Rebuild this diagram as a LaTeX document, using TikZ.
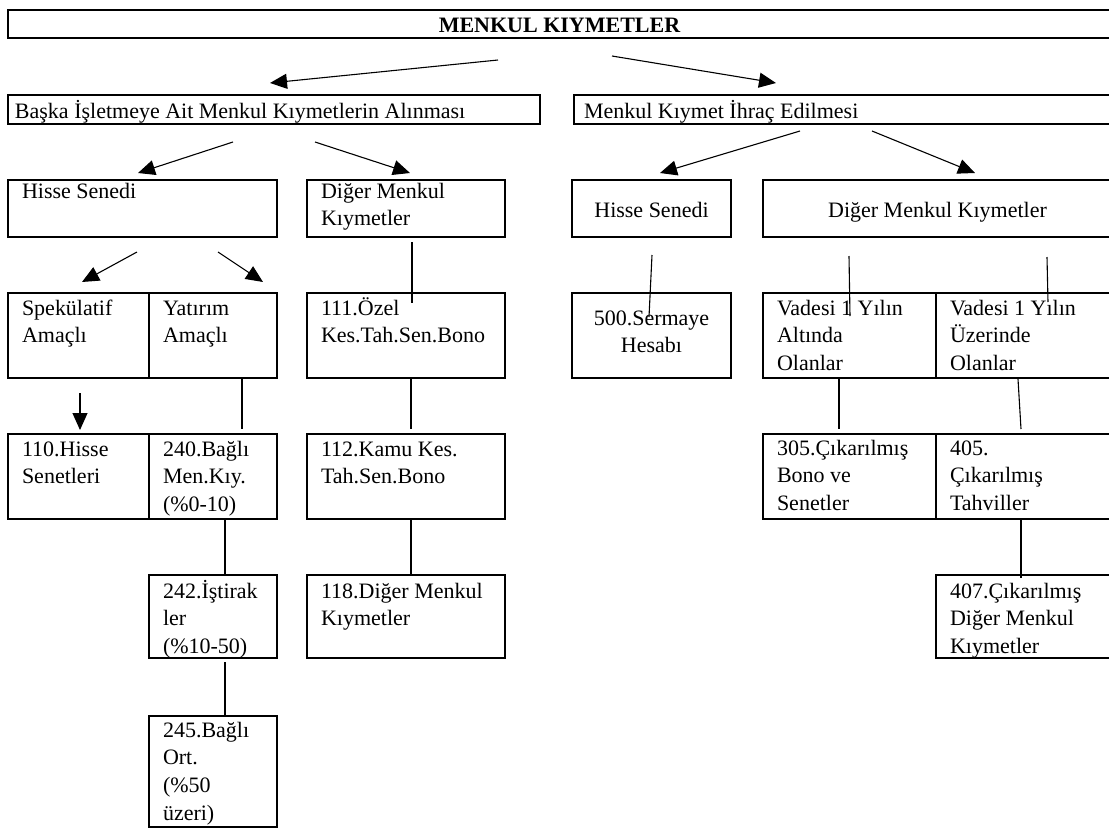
\documentclass[tikz,border=0pt]{standalone}
\usepackage{fontspec}
\setmainfont{Liberation Serif}
\usetikzlibrary{arrows.meta}
\newcommand{\yazi}{\fontsize{22}{27.8}\selectfont}
% genislik, yukseklik, ilk satir, metin
\newcommand{\kutuyazi}[4]{\parbox[c][#2pt][t]{#1pt}{\yazi\raggedright\rule{0pt}{#3pt}#4}}

\begin{document}
\begin{tikzpicture}[x=1pt,y=-1pt,
        kutu/.style={draw, line width=2pt, anchor=north west, inner ysep=0pt, inner xsep=14pt, outer sep=0pt},
        ok/.style={-{Triangle[length=17pt,width=15pt]}, line width=1.1pt},
        cizgi/.style={line width=1.1pt}]
        \useasboundingbox[fill=white] (0,0) rectangle (1109,828);
        \node[kutu, inner xsep=0pt] (baslik) at (8,10) {\kutuyazi{1103}{28}{22}{\centering\bfseries MENKUL KIYMETLER}};
        \node[kutu, inner xsep=7pt] (baska) at (8,95) {\kutuyazi{518}{29}{23}{Başka İşletmeye Ait Menkul Kıymetlerin Alınması}};
        \node[kutu, inner xsep=10pt] (ihrac) at (574,95) {\kutuyazi{518}{29}{23}{Menkul Kıymet İhraç Edilmesi}};
        % sol dal
        \node[kutu] (hisseA) at (8,180) {\kutuyazi{241}{57}{18}{Hisse Senedi}};
        \node[kutu] (digerA) at (307,180) {\kutuyazi{170}{57}{18}{Diğer Menkul\\Kıymetler}};
        \node[kutu] (spek) at (8,293) {\kutuyazi{113}{85}{22}{Spekülatif\\Amaçlı}};
        \node[kutu] (yat) at (149,293) {\kutuyazi{100}{85}{22}{Yatırım\\Amaçlı}};
        \node[kutu] (h111) at (307,293) {\kutuyazi{170}{85}{22}{111.Özel\\Kes.Tah.Sen.Bono}};
        \node[kutu] (h110) at (8,434) {\kutuyazi{113}{85}{22}{110.Hisse\\Senetleri}};
        \node[kutu] (h240) at (149,434) {\kutuyazi{100}{85}{22}{240.Bağlı\\Men.Kıy.\\(\%0-10)}};
        \node[kutu] (h112) at (307,434) {\kutuyazi{170}{85}{22}{112.Kamu Kes.\\Tah.Sen.Bono}};
        \node[kutu] (h242) at (149,575) {\kutuyazi{100}{83}{23}{242.İştirak\\ler\\(\%10-50)}};
        \node[kutu] (h118) at (307,575) {\kutuyazi{170}{83}{23}{118.Diğer Menkul\\Kıymetler}};
        \node[kutu] (h245) at (149,716) {\kutuyazi{100}{111}{21}{245.Bağlı\\Ort.\\(\%50\\üzeri)}};
        % sag dal
        \node[kutu, inner xsep=0pt] (hisseB) at (572,180) {\kutuyazi{159}{57}{37}{\centering Hisse Senedi}};
        \node[kutu, inner xsep=0pt] (digerB) at (763,180) {\kutuyazi{349}{57}{37}{\centering Diğer Menkul Kıymetler}};
        \node[kutu, inner xsep=0pt] (h500) at (572,293) {\kutuyazi{159}{85}{32}{\centering 500.Sermaye\\Hesabı}};
        \node[kutu] (vade1) at (763,293) {\kutuyazi{145}{85}{22}{Vadesi 1 Yılın\\Altında\\Olanlar}};
        \node[kutu] (vade2) at (936,293) {\kutuyazi{148}{85}{22}{Vadesi 1 Yılın\\Üzerinde\\Olanlar}};
        \node[kutu] (h305) at (763,434) {\kutuyazi{145}{85}{21}{305.Çıkarılmış\\Bono ve\\Senetler}};
        \node[kutu] (h405) at (936,434) {\kutuyazi{148}{85}{21}{405.\\Çıkarılmış\\Tahviller}};
        \node[kutu] (h407) at (936,575) {\kutuyazi{148}{83}{23}{407.Çıkarılmış\\Diğer Menkul\\Kıymetler}};
        % oklar
        \draw[ok] ([shift={(490,22)}]baslik.south west) -- ([shift={(262,-12)}]baska.north west);
        \draw[ok] ([shift={(604,18)}]baslik.south west) -- ([shift={(202,-12)}]ihrac.north west);
        \draw[ok] ([shift={(225,18)}]baska.south west) -- ([shift={(130,-7)}]hisseA.north west);
        \draw[ok] ([shift={(307,18)}]baska.south west) -- ([shift={(103,-7)}]digerA.north west);
        \draw[ok] ([shift={(226,7)}]ihrac.south west) -- ([shift={(88,-7)}]hisseB.north west);
        \draw[ok] ([shift={(298,7)}]ihrac.south west) -- ([shift={(212,-7)}]digerB.north west);
        \draw[ok] ([shift={(129,15)}]hisseA.south west) -- ([shift={(74,-11)}]spek.north west);
        \draw[ok] ([shift={(210,15)}]hisseA.south west) -- ([shift={(114,-11)}]yat.north west);
        \draw[ok] ([shift={(72,15)}]spek.south west) -- ([shift={(72,-4)}]h110.north west);
        % cizgiler
        \draw[cizgi] ([shift={(105,5)}]digerA.south west) -- ([shift={(105,10)}]h111.north west);
        \draw[cizgi] ([xshift=93]yat.south west) -- ([shift={(93,-5)}]h240.north west);
        \draw[cizgi] ([xshift=104]h111.south west) -- ([shift={(104,-5)}]h112.north west);
        \draw[cizgi] ([xshift=76]h240.south west) -- ([xshift=76]h242.north west);
        \draw[cizgi] ([xshift=104]h112.south west) -- ([xshift=104]h118.north west);
        \draw[cizgi] ([shift={(76,4)}]h242.south west) -- ([shift={(76,1)}]h245.north west);
        \draw[cizgi] ([shift={(80,18)}]hisseB.south west) -- ([shift={(77,24)}]h500.north west);
        \draw[cizgi] ([shift={(86,19)}]digerB.south west) -- ([shift={(87,23)}]vade1.north west);
        \draw[cizgi] ([shift={(284,20)}]digerB.south west) -- ([shift={(112,9)}]vade2.north west);
        \draw[cizgi] ([xshift=76]vade1.south west) -- ([shift={(76,-5)}]h305.north west);
        \draw[cizgi] ([shift={(82,1)}]vade2.south west) -- ([shift={(85,-5)}]h405.north west);
        \draw[cizgi] ([xshift=85]h405.south west) -- ([shift={(85,3)}]h407.north west);
\end{tikzpicture}
\end{document}
